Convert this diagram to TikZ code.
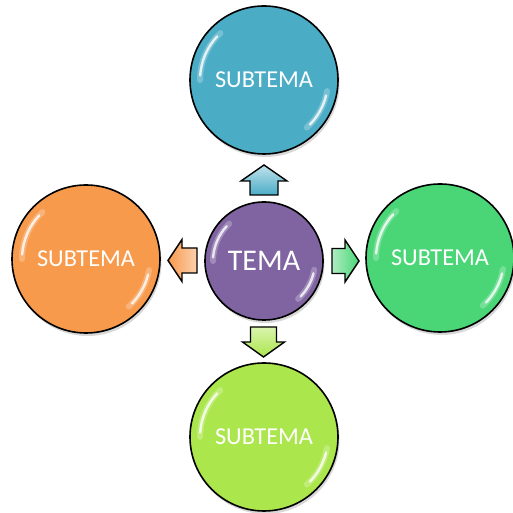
\documentclass[tikz,border=0pt]{standalone}
\usepackage{fontspec}
\setmainfont{Carlito}
\usetikzlibrary{shadows,calc}
\definecolor{cTop}{HTML}{4BACC6}
\definecolor{cLeft}{HTML}{F79A4C}
\definecolor{cRight}{HTML}{4AD676}
\definecolor{cBot}{HTML}{ABE64C}
\definecolor{cMid}{HTML}{8064A2}
\tikzset{
  bub/.style={circle, draw=black, line width=1.6pt, minimum size=148pt, inner sep=0pt,
    text=white, font=\fontsize{24.3}{27}\selectfont,
    drop shadow={opacity=0.3, shadow xshift=1.5pt, shadow yshift=-3pt}},
  midbub/.style={bub, minimum size=118pt, font=\fontsize{30}{33}\selectfont},
  gloss/.style={white, line width=2.4pt, opacity=0.8, line cap=round},
  glosswide/.style={white, line width=6pt, opacity=0.25, line cap=round},
  blk/.style={draw=black, line width=1.4pt, line join=miter},
}
\newcommand{\glossy}[2]{%
  \draw[glosswide] ($(#1.center)+(133:#2)$) arc[start angle=133, end angle=180, radius=#2];
  \draw[glosswide] ($(#1.center)+(-10:#2)$) arc[start angle=-10, end angle=-48, radius=#2];
  \draw[gloss] ($(#1.center)+(137:#2)$) arc[start angle=137, end angle=176, radius=#2];
  \draw[gloss] ($(#1.center)+(-14:#2)$) arc[start angle=-14, end angle=-44, radius=#2];
}
\begin{document}
\begin{tikzpicture}[x=1pt,y=1pt]
\useasboundingbox (0,0) rectangle (513,513);
\fill[white] (0,0) rectangle (513,513);
% nodes
\node[bub, fill=cTop]   (top)   at (264,433) {SUBTEMA};
\node[bub, fill=cLeft]  (left)  at (86,254)  {SUBTEMA};
\node[bub, fill=cRight] (right) at (440,255) {SUBTEMA};
\node[bub, fill=cBot]   (bot)   at (264,76)  {SUBTEMA};
\node[midbub, fill=cMid] (mid)  at (264,252) {TEMA};
\glossy{top}{64pt}
\glossy{left}{64pt}
\glossy{right}{64pt}
\glossy{bot}{64pt}
\glossy{mid}{51pt}
% arrows
\coordinate (aup) at (264,318);
\coordinate (adn) at (263.5,186);
\coordinate (art) at (332,252);
\coordinate (alt) at (197,252.5);
\draw[blk, top color=cTop!35!white, bottom color=cTop]
  (aup) ++(-14,0) -- ++(0,14) -- ++(-9,0) -- ++(23,16) -- ++(23,-16) -- ++(-9,0) -- ++(0,-14) -- cycle;
\draw[blk, top color=cBot!45!white, bottom color=cBot]
  (adn) ++(-13,0) -- ++(0,-15) -- ++(-8,0) -- ++(21,-15) -- ++(21,15) -- ++(-8,0) -- ++(0,15) -- cycle;
\draw[blk, left color=cRight!45!white, right color=cRight]
  (art) ++(0,12.5) -- ++(13,0) -- ++(0,8.5) -- ++(14,-21) -- ++(-14,-21) -- ++(0,8.5) -- ++(-13,0) -- cycle;
\draw[blk, right color=cLeft!45!white, left color=cLeft]
  (alt) ++(0,12.5) -- ++(-15,0) -- ++(0,8.5) -- ++(-14,-21) -- ++(14,-21) -- ++(0,8.5) -- ++(15,0) -- cycle;
\end{tikzpicture}
\end{document}
